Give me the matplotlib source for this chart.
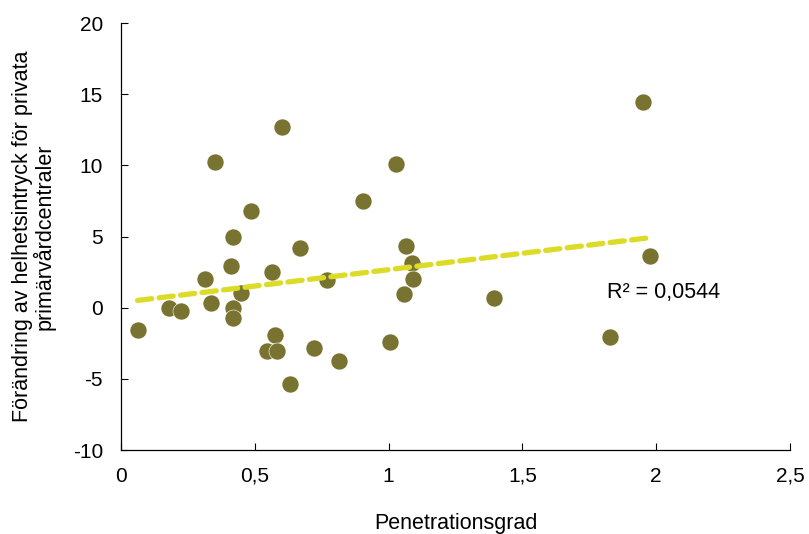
import numpy as np
import matplotlib
matplotlib.use("Agg")
import matplotlib.pyplot as plt

plt.rcParams["font.family"] = ["Liberation Sans", "DejaVu Sans"]

# Penetrationsgrad vs change in overall impression
penetration = [0.062, 0.180, 0.225, 0.314, 0.338, 0.351, 0.417, 0.412, 0.420, 0.420,
               0.447, 0.487, 0.546, 0.565, 0.576, 0.582, 0.600, 0.632, 0.668, 0.722,
               0.768, 0.815, 0.903, 1.007, 1.029, 1.066, 1.088, 1.090, 1.058, 1.393,
               1.829, 1.952, 1.977]
change = [-1.55, 0.0, -0.22, 2.03, 0.30, 10.22, 4.96, 2.95, -0.02, -0.75,
          1.03, 6.76, -3.05, 2.49, -1.89, -3.05, 12.72, -5.39, 4.19, -2.81,
          1.95, -3.72, 7.52, -2.39, 10.10, 4.33, 3.14, 2.04, 0.94, 0.67,
          -2.06, 14.48, 3.60]
r2_label = "R² = 0,0544"

x = np.array(penetration)
y = np.array(change)
k, m = np.polyfit(x, y, 1)
xt = np.array([x.min(), x.max()])

fig = plt.figure(figsize=(8.09, 5.34), dpi=100)
ax = fig.add_axes([0.1496, 0.1573, 0.8269, 0.7996])

ax.scatter(x, y, s=150, color="#787330", edgecolors="white", linewidths=0.4, zorder=3)
ax.plot(xt, k * xt + m, color="#DCDC28", lw=3.8, dashes=(2.7, 1.4),
        solid_capstyle="round", dash_capstyle="round", zorder=4)

ax.text(1.816, 0.7, r2_label, fontsize=15.5, color="black", va="baseline")

ax.set_xlim(0, 2.5)
ax.set_ylim(-10, 20)
ax.set_xticks([0, 0.5, 1, 1.5, 2, 2.5])
ax.set_xticklabels(["0", "0,5", "1", "1,5", "2", "2,5"])
ax.set_yticks([-10, -5, 0, 5, 10, 15, 20])
ax.set_yticklabels(["-10", "-5", "0", "5", "10", "15", "20"])
ax.tick_params(direction="in", length=5, width=0.8, labelsize=15)
ax.tick_params(axis="x", pad=12)
ax.tick_params(axis="y", pad=13)

for s in ["top", "right"]:
    ax.spines[s].set_visible(False)
for s in ["left", "bottom"]:
    ax.spines[s].set_linewidth(0.9)

ax.set_xlabel("Penetrationsgrad", fontsize=15.5, labelpad=20)
ax.set_ylabel("Förändring av helhetsintryck för privata\nprimärvårdcentraler", fontsize=15.5,
              labelpad=12, linespacing=1.0)

fig.savefig("out.png", dpi=100)
